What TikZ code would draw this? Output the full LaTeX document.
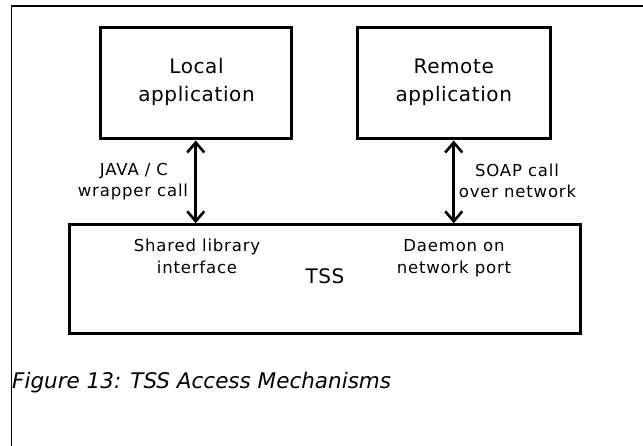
\documentclass[tikz,border=0pt]{standalone}
\usepackage{fontspec}
\setmainfont{DejaVu Sans}
\newfontfamily\boxfont[LetterSpace=3]{DejaVu Sans}
\newfontfamily\lblfont[LetterSpace=5]{DejaVu Sans}
\usetikzlibrary{arrows.meta}

\begin{document}
\begin{tikzpicture}[x=1pt,y=-1pt,
  frameline/.style={line width=1.2pt,black},
  block/.style={draw,line width=3pt,inner sep=0pt,minimum width=#1},
  title/.style={anchor=base,inner sep=0pt,font=\boxfont\fontsize{20}{24}\selectfont},
  lbl/.style={anchor=base,inner sep=0pt,font=\lblfont\fontsize{16.5}{20}\selectfont},
  biarrow/.style={line width=2.6pt,{Straight Barb[length=10pt,width=17pt]}-{Straight Barb[length=10pt,width=17pt]}},
  caption/.style={anchor=base west,inner sep=0pt,font=\itshape\fontsize{21.5}{26}\selectfont}]

% page and open frame (top and left edges only)
\useasboundingbox (0,0) rectangle (643,446);
\coordinate (frameR) at (643,6);
\coordinate (frameTL) at (11.5,6);
\coordinate (frameB) at (11.5,446);
\draw[frameline] (frameR) -- (frameTL) -- (frameB);

% application boxes
\node[block=191pt,minimum height=111.5pt] (local) at (195.75,83.25) {};
\node[block=193pt,minimum height=111.5pt] (remote) at (453.75,83.25) {};
\node[title] (localA) at (196.5,74) {Local};
\node[title] (localB) at (196.5,102) {application};
\node[title] (remoteA) at (453.75,74) {Remote};
\node[title] (remoteB) at (453.75,102) {application};

% TSS box
\node[block=511pt,minimum height=108.7pt] (tss) at (325.15,279.15) {};
\node[lbl] (shA) at (197,252) {Shared library};
\node[lbl] (shB) at (197,274) {interface};
\node[lbl] (dmA) at (454,252) {Daemon on};
\node[lbl] (dmB) at (454,274) {network port};
\node[title] (tssT) at (325,284) {TSS};

% access paths
\draw[biarrow] (local.south) -- (local.south |- tss.north);
\draw[biarrow] (remote.south) -- (remote.south |- tss.north);
\node[lbl] (jA) at (134,176) {JAVA / C};
\node[lbl] (jB) at (133,197) {wrapper call};
\node[lbl] (sA) at (517,177) {SOAP call};
\node[lbl] (sB) at (517.5,198) {over network};

% caption
\node[caption] (cap) at (12,389) {Figure 13: TSS Access Mechanisms};
\end{tikzpicture}
\end{document}
